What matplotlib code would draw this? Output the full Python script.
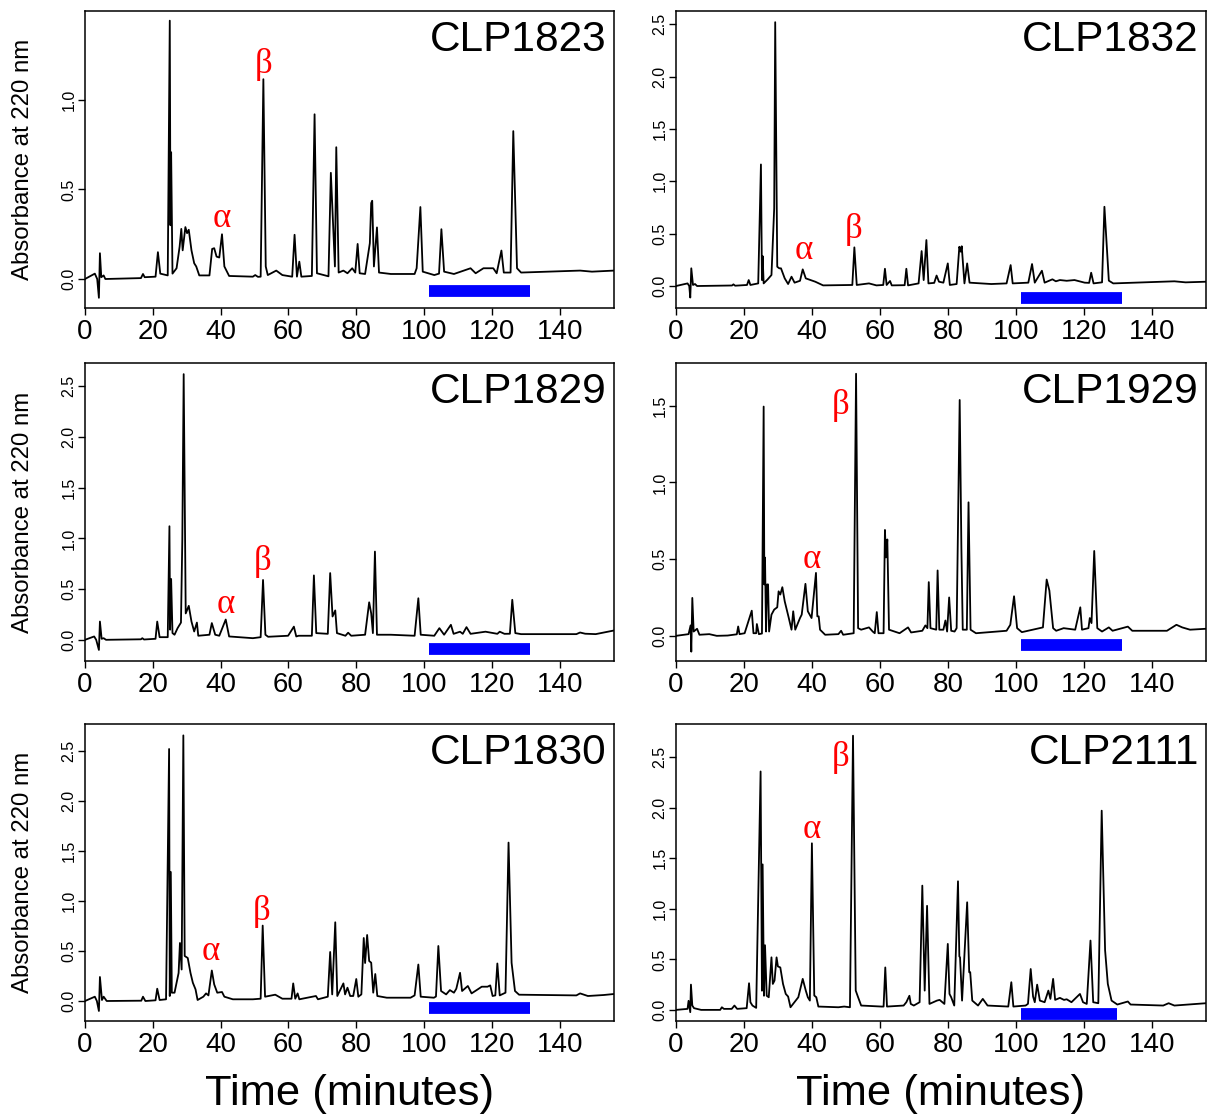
import numpy as np
import matplotlib
matplotlib.use("Agg")
import matplotlib.pyplot as plt
from matplotlib.ticker import MultipleLocator, FormatStrFormatter

plt.rcParams['font.family'] = ['Liberation Sans', 'DejaVu Sans']

# traces: (time in minutes, absorbance at 220 nm)
clp1823 = [(0, 0.0), (2.9, 0.03), (3.6, 0.0), (4.1, -0.105), (4.4, 0.144), (4.8, 0.01), (5.5, 0.02),
           (6.0, 0.0), (16.5, 0.005), (17.1, 0.028), (17.6, 0.01), (20.8, 0.013), (21.5, 0.15),
           (22.2, 0.03), (24.4, 0.02), (25.0, 1.443), (25.2, 0.3), (25.4, 0.708), (25.8, 0.03),
           (27.0, 0.06), (27.9, 0.18), (28.4, 0.28), (28.8, 0.16), (29.6, 0.29), (30.1, 0.256),
           (30.6, 0.275), (31.4, 0.16), (32.2, 0.088), (32.8, 0.07), (33.7, 0.02), (36.7, 0.02),
           (37.5, 0.168), (38.1, 0.172), (38.8, 0.125), (39.6, 0.12), (40.4, 0.25), (41.1, 0.07),
           (42.5, 0.017), (49.5, 0.013), (50.2, 0.022), (51.0, 0.012), (51.8, 0.013), (52.6, 1.116),
           (53.3, 0.07), (53.9, 0.022), (56.4, 0.047), (58.2, 0.022), (61.1, 0.013), (61.8, 0.247),
           (62.5, 0.013), (63.2, 0.097), (63.8, 0.013), (66.9, 0.017), (67.7, 0.92), (68.4, 0.032),
           (71.8, 0.015), (72.5, 0.593), (73.7, 0.07), (74.1, 0.736), (74.8, 0.036), (76.2, 0.047),
           (77.4, 0.032), (78.8, 0.06), (79.7, 0.036), (80.4, 0.196), (81.0, 0.032), (82.6, 0.028),
           (84.0, 0.2), (84.4, 0.424), (84.7, 0.437), (85.2, 0.07), (86.1, 0.288), (86.7, 0.036),
           (90.2, 0.028), (97.2, 0.028), (97.8, 0.06), (98.9, 0.402), (99.6, 0.041), (103.0, 0.022),
           (104.4, 0.03), (105.1, 0.278), (105.9, 0.041), (108.8, 0.028), (113.7, 0.06),
           (115.2, 0.032), (117.5, 0.06), (120.4, 0.06), (121.4, 0.032), (122.8, 0.159),
           (123.5, 0.036), (125.5, 0.036), (126.3, 0.826), (127.4, 0.06), (128.6, 0.036),
           (146.0, 0.047), (149.5, 0.041), (156.0, 0.047)]

clp1832 = [(0, 0.0), (3.4, 0.025), (3.9, 0.0), (4.2, -0.11), (4.5, 0.169), (5.0, 0.01), (5.6, 0.019),
           (6.2, 0.0), (16.5, 0.005), (16.9, 0.016), (17.4, 0.003), (20.9, 0.01), (21.4, 0.057),
           (21.9, 0.01), (24.2, 0.025), (25.0, 1.161), (25.3, 0.057), (25.5, 0.286), (25.8, 0.025),
           (27.0, 0.064), (28.1, 0.105), (28.9, 0.741), (29.2, 2.52), (29.8, 0.184), (30.4, 0.169),
           (30.9, 0.169), (32.0, 0.073), (33.0, 0.019), (34.0, 0.089), (34.9, 0.032), (36.5, 0.05),
           (37.3, 0.159), (38.2, 0.073), (41.0, 0.041), (43.3, 0.006), (51.9, 0.01), (52.5, 0.369),
           (53.2, 0.01), (56.8, 0.025), (59.0, 0.006), (61.0, 0.01), (61.5, 0.165), (62.0, 0.01),
           (63.0, 0.048), (63.5, 0.006), (67.3, 0.008), (67.8, 0.165), (68.3, 0.006), (71.4, 0.025),
           (72.3, 0.334), (72.9, 0.057), (73.7, 0.439), (74.3, 0.025), (76.0, 0.03), (76.7, 0.1),
           (77.4, 0.041), (78.7, 0.032), (80.0, 0.216), (80.6, 0.01), (82.6, 0.019), (83.4, 0.375),
           (83.8, 0.328), (84.1, 0.38), (84.9, 0.025), (85.7, 0.216), (86.4, 0.032), (92.8, 0.019),
           (97.3, 0.025), (98.5, 0.2), (99.1, 0.025), (103.7, 0.032), (104.8, 0.21), (105.6, 0.032),
           (107.7, 0.146), (108.5, 0.032), (110.8, 0.064), (111.8, 0.045), (113.0, 0.057),
           (115.0, 0.05), (117.3, 0.057), (120.3, 0.032), (121.6, 0.03), (122.2, 0.127),
           (122.9, 0.025), (125.4, 0.035), (126.1, 0.757), (127.4, 0.051), (128.7, 0.025),
           (146.7, 0.045), (150.0, 0.035), (156.0, 0.041)]

clp1829 = [(0, 0.0), (2.7, 0.033), (3.3, 0.0), (4.1, -0.1), (4.4, 0.18), (4.9, 0.01), (5.5, 0.016),
           (6.2, 0.0), (16.5, 0.005), (16.9, 0.016), (17.4, 0.003), (20.8, 0.01), (21.3, 0.18),
           (22.0, 0.026), (24.4, 0.026), (24.9, 1.12), (25.1, 0.1), (25.4, 0.6), (25.8, 0.066),
           (26.4, 0.05), (27.3, 0.115), (28.3, 0.17), (28.7, 0.99), (29.1, 2.62), (29.7, 0.26),
           (30.6, 0.335), (31.4, 0.18), (32.2, 0.082), (33.0, 0.17), (33.4, 0.04), (36.7, 0.05),
           (37.4, 0.165), (38.4, 0.05), (39.6, 0.04), (41.5, 0.2), (42.5, 0.033), (49.5, 0.016),
           (51.8, 0.026), (52.5, 0.59), (53.2, 0.05), (54.0, 0.03), (59.9, 0.04), (61.6, 0.13),
           (62.3, 0.033), (63.0, 0.04), (66.9, 0.04), (67.5, 0.635), (68.2, 0.066), (71.6, 0.059),
           (72.3, 0.658), (73.0, 0.23), (73.8, 0.29), (74.3, 0.066), (76.8, 0.04), (77.6, 0.07),
           (78.5, 0.04), (82.6, 0.05), (83.8, 0.37), (84.4, 0.26), (84.9, 0.066), (85.5, 0.87),
           (86.1, 0.05), (90.2, 0.05), (97.2, 0.04), (98.3, 0.41), (99.0, 0.05), (103.0, 0.04),
           (104.5, 0.115), (105.9, 0.05), (107.9, 0.148), (108.7, 0.059), (110.6, 0.08),
           (111.4, 0.059), (112.5, 0.125), (113.7, 0.059), (118.1, 0.08), (121.6, 0.059),
           (122.3, 0.08), (123.7, 0.059), (125.3, 0.06), (126.0, 0.395), (126.9, 0.066),
           (128.6, 0.056), (144.9, 0.056), (146.0, 0.072), (147.5, 0.06), (150.6, 0.056),
           (156.0, 0.092)]

clp1929 = [(0, 0.0), (3.7, 0.011), (4.3, 0.068), (4.5, -0.103), (4.8, 0.247), (5.2, 0.028),
           (6.2, 0.046), (6.9, 0.007), (9.8, 0.011), (12.0, 0.0), (15.2, 0.002), (17.9, 0.01),
           (18.3, 0.061), (18.7, 0.011), (20.2, 0.017), (22.3, 0.164), (22.8, 0.017), (23.6, 0.017),
           (23.8, 0.077), (24.4, 0.011), (25.3, 0.015), (25.8, 1.494), (26.0, 0.335), (26.2, 0.51),
           (26.5, 0.028), (26.8, 0.335), (27.1, 0.335), (27.4, 0.028), (28.1, 0.138), (28.9, 0.171),
           (29.8, 0.186), (30.2, 0.29), (30.7, 0.269), (31.3, 0.317), (32.0, 0.225), (33.2, 0.116),
           (34.0, 0.04), (34.5, 0.16), (35.1, 0.04), (36.5, 0.116), (37.0, 0.138), (38.1, 0.339),
           (38.8, 0.16), (39.9, 0.116), (41.2, 0.41), (41.6, 0.127), (42.0, 0.127), (42.4, 0.04),
           (43.9, 0.007), (47.8, 0.011), (48.6, 0.033), (49.2, 0.007), (52.3, 0.017), (53.0, 1.708),
           (53.6, 0.05), (54.5, 0.04), (56.8, 0.055), (57.9, 0.028), (58.5, 0.017), (59.1, 0.155),
           (59.6, 0.017), (61.1, 0.017), (61.5, 0.69), (61.8, 0.511), (62.2, 0.628), (62.7, 0.04),
           (65.8, 0.017), (68.3, 0.055), (69.2, 0.022), (72.5, 0.033), (73.4, 0.068), (74.0, 0.05),
           (74.4, 0.35), (74.9, 0.05), (76.6, 0.04), (77.0, 0.426), (77.5, 0.04), (78.7, 0.04),
           (79.3, 0.1), (79.8, 0.028), (80.4, 0.25), (81.0, 0.033), (82.0, 0.028), (82.6, 0.05),
           (83.5, 1.537), (84.0, 0.575), (84.4, 0.04), (85.6, 0.04), (86.1, 0.87), (86.7, 0.04),
           (88.3, 0.017), (97.3, 0.033), (98.4, 0.072), (99.5, 0.258), (100.4, 0.05), (101.8, 0.024),
           (108.0, 0.055), (109.1, 0.367), (109.9, 0.295), (111.0, 0.05), (111.9, 0.033),
           (114.1, 0.05), (117.5, 0.04), (119.0, 0.186), (119.5, 0.04), (121.4, 0.05),
           (121.8, 0.116), (122.3, 0.083), (123.1, 0.553), (124.0, 0.05), (125.4, 0.028),
           (127.4, 0.055), (128.5, 0.033), (133.0, 0.06), (134.3, 0.033), (144.5, 0.033),
           (147.3, 0.072), (149.0, 0.055), (151.3, 0.04), (156.0, 0.046)]

clp1830 = [(0, 0.0), (2.9, 0.043), (3.5, 0.0), (4.1, -0.1), (4.4, 0.24), (5.0, 0.01), (5.5, 0.043),
           (6.4, 0.0), (16.6, 0.003), (17.1, 0.043), (17.8, 0.0), (20.8, 0.007), (21.3, 0.123),
           (22.0, 0.01), (23.9, 0.017), (24.8, 2.52), (25.0, 0.05), (25.3, 1.29), (25.6, 0.083),
           (26.4, 0.083), (27.6, 0.28), (28.0, 0.58), (28.5, 0.315), (29.0, 2.656), (29.4, 0.45),
           (30.3, 0.43), (31.1, 0.282), (31.8, 0.183), (32.6, 0.116), (33.2, 0.01), (34.9, 0.043),
           (35.7, 0.076), (36.4, 0.056), (37.4, 0.305), (38.1, 0.166), (39.0, 0.083), (40.4, 0.09),
           (41.1, 0.043), (43.6, 0.017), (49.5, 0.017), (51.8, 0.023), (52.4, 0.754), (53.1, 0.043),
           (56.1, 0.063), (58.2, 0.023), (60.9, 0.023), (61.4, 0.176), (62.0, 0.023), (62.7, 0.076),
           (63.2, 0.017), (68.1, 0.05), (68.7, 0.017), (71.6, 0.043), (72.3, 0.49), (72.9, 0.066),
           (73.8, 0.787), (74.4, 0.05), (76.2, 0.176), (76.7, 0.066), (77.4, 0.133), (78.2, 0.05),
           (79.1, 0.05), (80.0, 0.22), (80.6, 0.043), (81.5, 0.066), (82.2, 0.63), (82.6, 0.38),
           (83.2, 0.66), (83.8, 0.4), (84.4, 0.383), (85.0, 0.083), (85.6, 0.27), (86.2, 0.05),
           (89.0, 0.033), (96.0, 0.033), (97.2, 0.056), (98.3, 0.365), (99.0, 0.043), (102.9, 0.033),
           (103.5, 0.045), (104.2, 0.55), (105.0, 0.1), (106.5, 0.066), (107.6, 0.109),
           (108.8, 0.083), (109.5, 0.123), (110.6, 0.282), (111.2, 0.1), (112.9, 0.15),
           (114.0, 0.076), (115.8, 0.116), (117.0, 0.143), (118.7, 0.143), (119.5, 0.156),
           (120.2, 0.05), (121.0, 0.056), (121.6, 0.375), (122.3, 0.056), (124.0, 0.083),
           (124.9, 1.584), (125.8, 0.382), (126.8, 0.1), (128.0, 0.063), (144.9, 0.056),
           (146.0, 0.076), (148.3, 0.05), (153.0, 0.06), (156.0, 0.07)]

clp2111 = [(0, 0.0), (3.4, 0.01), (3.7, 0.09), (4.2, -0.023), (4.4, 0.25), (4.8, 0.043), (5.3, 0.017),
           (7.4, 0.0), (13.0, 0.0), (13.5, 0.026), (14.1, 0.01), (16.4, 0.01), (17.2, 0.043),
           (18.0, 0.01), (20.8, 0.017), (21.5, 0.264), (21.9, 0.076), (22.5, 0.043), (23.6, 0.02),
           (24.9, 2.36), (25.3, 0.19), (25.5, 1.44), (25.9, 0.14), (26.2, 0.64), (26.7, 0.14),
           (27.3, 0.125), (28.1, 0.52), (28.5, 0.257), (29.0, 0.29), (29.6, 0.52), (30.0, 0.43),
           (30.7, 0.42), (31.5, 0.257), (32.3, 0.158), (33.0, 0.132), (33.7, 0.026), (36.0, 0.125),
           (37.3, 0.307), (38.2, 0.191), (38.8, 0.125), (39.4, 0.092), (40.0, 1.649), (40.7, 0.142),
           (41.3, 0.125), (41.9, 0.033), (47.8, 0.026), (49.5, 0.033), (51.2, 0.026), (52.1, 2.714),
           (52.9, 0.191), (53.6, 0.125), (54.5, 0.043), (60.5, 0.033), (61.1, 0.033), (61.6, 0.42),
           (62.1, 0.033), (67.0, 0.043), (67.8, 0.076), (68.7, 0.14), (69.1, 0.059), (70.0, 0.043),
           (71.7, 0.076), (72.5, 1.23), (73.2, 0.191), (73.9, 1.03), (74.6, 0.059), (76.8, 0.092),
           (77.6, 0.099), (79.0, 0.059), (80.0, 0.653), (80.5, 0.158), (81.0, 0.125), (81.9, 0.043),
           (83.0, 1.273), (83.4, 0.53), (83.6, 0.52), (84.2, 0.092), (85.7, 1.065), (86.3, 0.373),
           (86.6, 0.373), (87.2, 0.092), (88.9, 0.043), (90.3, 0.109), (91.7, 0.043), (97.8, 0.033),
           (98.7, 0.274), (99.3, 0.033), (102.9, 0.043), (103.6, 0.06), (104.4, 0.405),
           (105.1, 0.132), (105.6, 0.076), (106.3, 0.25), (107.1, 0.092), (108.5, 0.076),
           (109.6, 0.191), (110.2, 0.109), (111.0, 0.307), (111.6, 0.099), (113.0, 0.119),
           (114.2, 0.099), (115.0, 0.105), (116.4, 0.076), (118.9, 0.158), (119.8, 0.076),
           (120.9, 0.059), (122.0, 0.686), (122.8, 0.076), (124.3, 0.066), (125.3, 1.972),
           (126.3, 0.59), (127.1, 0.257), (128.2, 0.092), (129.9, 0.053), (133.0, 0.083),
           (133.8, 0.053), (143.4, 0.043), (145.0, 0.066), (146.7, 0.043), (156.0, 0.066)]

samples = ['CLP1823', 'CLP1832', 'CLP1829', 'CLP1929', 'CLP1830', 'CLP2111']
traces = [clp1823, clp1832, clp1829, clp1929, clp1830, clp2111]

# alpha / beta label positions (time, absorbance)
alpha_time = [40.4, 37.7, 41.5, 40.1, 37.2, 39.9]
alpha_abs = [0.336, 0.337, 0.345, 0.50, 0.50, 1.79]
beta_time = [52.6, 52.3, 52.3, 48.5, 52.0, 48.4]
beta_abs = [1.196, 0.54, 0.773, 1.504, 0.896, 2.50]

# blue fraction bar (start, end, level)
bar_start = [101.5, 101.5, 101.5, 101.5, 101.5, 101.5]
bar_end = [131.2, 131.2, 131.2, 131.2, 131.2, 129.7]
bar_level = [-0.065, -0.115, -0.086, -0.061, -0.07, -0.043]

ylims = [(-0.162, 1.497), (-0.21, 2.627), (-0.209, 2.73),
         (-0.164, 1.778), (-0.2, 2.77), (-0.11, 2.83)]

W, H = 1208, 1114
fig = plt.figure(figsize=(W / 100, H / 100), dpi=100)

cols = [(85, 614), (676, 1206)]
rows = [(11, 308), (363, 661), (724, 1021)]

for i, name in enumerate(samples):
    r, c = divmod(i, 2)
    x0, x1 = cols[c]
    y0, y1 = rows[r]
    ax = fig.add_axes([x0 / W, 1 - y1 / H, (x1 - x0) / W, (y1 - y0) / H])

    t, a = zip(*traces[i])
    ax.plot(t, a, color='black', lw=1.3)
    ax.plot([bar_start[i], bar_end[i]], [bar_level[i], bar_level[i]],
            color='#0000ff', lw=8.5, solid_capstyle='butt')

    ax.text(alpha_time[i], alpha_abs[i], 'α', color='red', fontsize=25,
            family=['Liberation Serif', 'DejaVu Serif'], ha='center', va='center')
    ax.text(beta_time[i], beta_abs[i], 'β', color='red', fontsize=25,
            family=['Liberation Serif', 'DejaVu Serif'], ha='center', va='center')
    ax.text(1 - 7 / (x1 - x0), 1 - 9 / (y1 - y0), name, transform=ax.transAxes,
            ha='right', va='top', fontsize=30.5)

    ax.set_xlim(0, 156)
    ax.set_ylim(*ylims[i])
    ax.xaxis.set_major_locator(MultipleLocator(20))
    ax.yaxis.set_major_locator(MultipleLocator(0.5))
    ax.yaxis.set_major_formatter(FormatStrFormatter('%.1f'))
    ax.tick_params(axis='x', labelsize=20, length=5, width=1, pad=3)
    ax.tick_params(axis='y', labelsize=11.5, length=5, width=1, pad=1, labelrotation=90)
    for lab in ax.get_yticklabels():
        lab.set_va('center')
    for s in ax.spines.values():
        s.set_linewidth(1.1)

    if c == 0:
        fig.text(23 / W, 1 - (y0 + y1) / 2 / H, 'Absorbance at 220 nm', rotation=90,
                 ha='center', va='center', fontsize=17.3)

for c in range(2):
    x0, x1 = cols[c]
    fig.text((x0 + x1) / 2 / W, 1 - 1105 / H, 'Time (minutes)', ha='center',
             va='baseline', fontsize=31.3)

fig.savefig('out.png', dpi=100)
